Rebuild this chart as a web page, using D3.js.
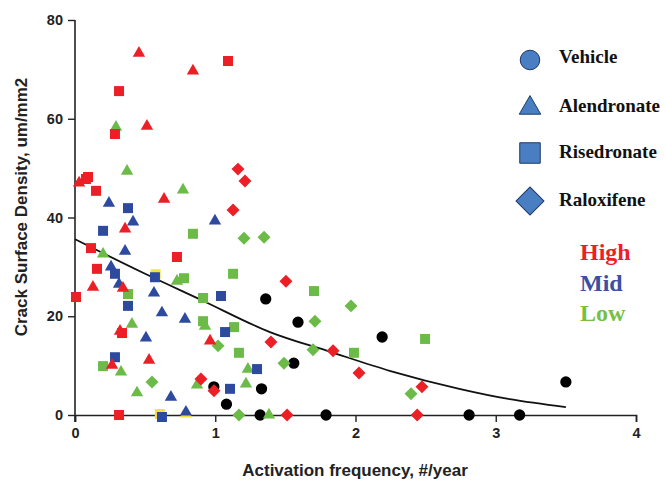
<!DOCTYPE html>
<html><head><meta charset="utf-8">
<script src="https://cdn.jsdelivr.net/npm/d3@7"></script>
<style>html,body{margin:0;padding:0;background:#fff;overflow:hidden}</style>
</head><body>
<svg id="c" width="666" height="482"></svg>
<script>
// ---- data (activation frequency, crack surface density) ----
const xTicks = [0, 1, 2, 3, 4];
const yTicks = [0, 20, 40, 60, 80];

const vehicle = [[0.99,5.7],[1.08,2.2],[1.33,5.3],[1.32,0],[1.36,23.5],[1.56,10.5],[1.59,18.8],[1.79,0],[2.19,15.8],[2.81,0],[3.17,0],[3.50,6.7]];

const alendronateHigh = [[0.456,73.3],[0.841,69.7],[0.513,58.5],[0.029,47.0],[0.635,43.7],[0.357,37.7],[0.128,25.9],[0.342,25.7],[0.321,17.0],[0.264,10.1],[0.528,11.1],[0.963,15.0]];
const risedronateHigh = [[1.091,71.7],[0.314,65.6],[0.285,56.9],[0.078,47.8],[0.093,48.2],[0.150,45.4],[0.727,32.0],[0.114,33.8],[0.157,29.6],[0.335,16.6],[0.007,23.9],[0.314,0]];
const raloxifeneHigh = [[1.162,49.8],[1.212,47.4],[1.127,41.5],[1.504,27.1],[1.397,14.8],[0.898,7.3],[0.991,4.9],[1.512,0],[1.840,13.0],[2.025,8.5],[2.474,5.7],[2.440,0]];

const alendronateMid = [[0.242,42.9],[0.414,39.1],[0.998,39.3],[0.357,33.2],[0.257,30.0],[0.314,26.5],[0.563,24.7],[0.620,20.7],[0.784,19.4],[0.506,15.6],[0.684,3.6],[0.791,0.6]];
const risedronateMid = [[0.378,41.9],[0.200,37.3],[0.285,28.6],[0.570,27.9],[0.378,22.1],[0.285,11.7],[0.620,-0.4],[1.041,24.1],[1.070,16.8],[1.298,9.3],[1.105,5.3]];

const alendronateLow = [[0.292,58.3],[0.371,49.4],[0.770,45.6],[0.200,32.6],[0.727,27.1],[0.406,18.4],[0.328,8.7],[0.442,4.5],[0.927,18.0],[0.870,6.1],[1.219,6.3],[1.233,9.3],[1.383,0]];
const risedronateLow = [[0.777,27.7],[0.841,36.7],[0.378,24.5],[0.200,9.9],[1.127,28.6],[0.913,23.7],[0.913,19.0],[1.134,17.8],[1.169,12.6],[1.704,25.1],[1.989,12.6],[2.496,15.4]];
const raloxifeneLow = [[1.205,35.8],[1.348,36.0],[0.549,6.7],[1.020,14.0],[1.711,19.0],[1.697,13.2],[1.490,10.5],[1.968,22.1],[2.396,4.3],[1.169,0]];

const hiddenSquares = [[0.575,28.5],[0.605,0.2]];
const hiddenTriangles = [[0.791,0.2]];

// fitted curve
const fitCurve = [[0,35.6],[0.5,28.6],[0.9,23.3],[1.39,16.8],[1.82,12.8],[2.25,8.9],[2.74,5.3],[3.1,3.2],[3.5,1.6]];

const legendItems = ["Vehicle","Alendronate","Risedronate","Raloxifene"];
const doseLabels = ["High","Mid","Low"];

// ---- styles ----
const RED = "#ec1f26", BLUE = "#2d4a9f", GREEN = "#6cbb48", BLACK = "#000", YELLOW = "#f2e23c";
const doseColors = [RED, "#3c4fa3", "#78c044"];

const svg = d3.select("#c");
const x = d3.scaleLinear().domain([0,4]).range([75,636]);
const y = d3.scaleLinear().domain([0,80]).range([415,20]);

// axes
const xAxis = d3.axisBottom(x).tickValues(xTicks).tickSize(7).tickPadding(6).tickFormat(d3.format("d"));
const yAxis = d3.axisLeft(y).tickValues(yTicks).tickSize(7).tickPadding(5).tickFormat(d3.format("d"));
const gx = svg.append("g").attr("transform","translate(0,415)").call(xAxis);
const gy = svg.append("g").attr("transform","translate(75,0)").call(yAxis);
[gx,gy].forEach(g=>{
  g.select(".domain").attr("stroke","#222").attr("stroke-width",1.6);
  g.selectAll(".tick line").attr("stroke","#222").attr("stroke-width",1.4);
  g.selectAll(".tick text").attr("fill","#222").style("font-family","'Liberation Sans',Arial,sans-serif")
    .style("font-weight","bold").style("font-size","14.5px");
});
gy.select(".domain").attr("d","M0,422V20");

// axis titles
svg.append("text").attr("x",355).attr("y",476).attr("text-anchor","middle")
  .style("font-family","'Liberation Sans',Arial,sans-serif").style("font-weight","bold").style("font-size","17px")
  .attr("fill","#222").text("Activation frequency, #/year");
svg.append("text").attr("transform","translate(27,207) rotate(-90)").attr("text-anchor","middle")
  .style("font-family","'Liberation Sans',Arial,sans-serif").style("font-weight","bold").style("font-size","17px")
  .attr("fill","#222").text("Crack Surface Density, um/mm2");

// fitted curve
svg.append("path").datum(fitCurve)
  .attr("d", d3.line().x(d=>x(d[0])).y(d=>y(d[1])).curve(d3.curveMonotoneX))
  .attr("fill","none").attr("stroke","#111").attr("stroke-width",1.8);

// symbols
const shapes = {
  circle: d3.symbol().type(d3.symbolCircle).size(100),
  triangle: d3.symbol().type(d3.symbolTriangle).size(66),
  square: d3.symbol().type(d3.symbolSquare).size(100),
  diamond: d3.symbol().type(d3.symbolSquare).size(84)
};
function plot(data, shape, color){
  svg.append("g").selectAll("path").data(data).join("path")
    .attr("d", shapes[shape]())
    .attr("transform", d=>`translate(${x(d[0])},${y(d[1])})` + (shape==="diamond"?" rotate(45)":""))
    .attr("fill", color);
}
plot(hiddenSquares,"square",YELLOW);
plot(hiddenTriangles,"triangle",YELLOW);
plot(vehicle,"circle",BLACK);
plot(alendronateLow,"triangle",GREEN);
plot(risedronateLow,"square",GREEN);
plot(raloxifeneLow,"diamond",GREEN);
plot(alendronateMid,"triangle",BLUE);
plot(risedronateMid,"square",BLUE);
plot(alendronateHigh,"triangle",RED);
plot(risedronateHigh,"square",RED);
plot(raloxifeneHigh,"diamond",RED);

// legend
const legShapes = [
  d3.symbol().type(d3.symbolCircle).size(300),
  d3.symbol().type(d3.symbolTriangle).size(200),
  d3.symbol().type(d3.symbolSquare).size(420),
  d3.symbol().type(d3.symbolSquare).size(390)
];
const legY = [60, 108, 153, 201];
const textY = [63, 112, 158, 206];
legendItems.forEach((name,i)=>{
  svg.append("path").attr("d", legShapes[i]())
    .attr("transform", `translate(530,${legY[i]})` + (i===3?" rotate(45)":""))
    .attr("fill","#4a7ec3").attr("stroke","#1e3a66").attr("stroke-width",1);
  svg.append("text").attr("x",559).attr("y",textY[i])
    .style("font-family","'Liberation Serif','Times New Roman',serif").style("font-weight","bold")
    .style("font-size","19px").attr("fill","#111").text(name);
});
const doseY = [260, 291, 321];
doseLabels.forEach((t,i)=>{
  svg.append("text").attr("x",580).attr("y",doseY[i])
    .style("font-family","'Liberation Serif','Times New Roman',serif").style("font-weight","bold")
    .style("font-size","24px").attr("fill",doseColors[i]).text(t);
});
</script>
</body></html>
